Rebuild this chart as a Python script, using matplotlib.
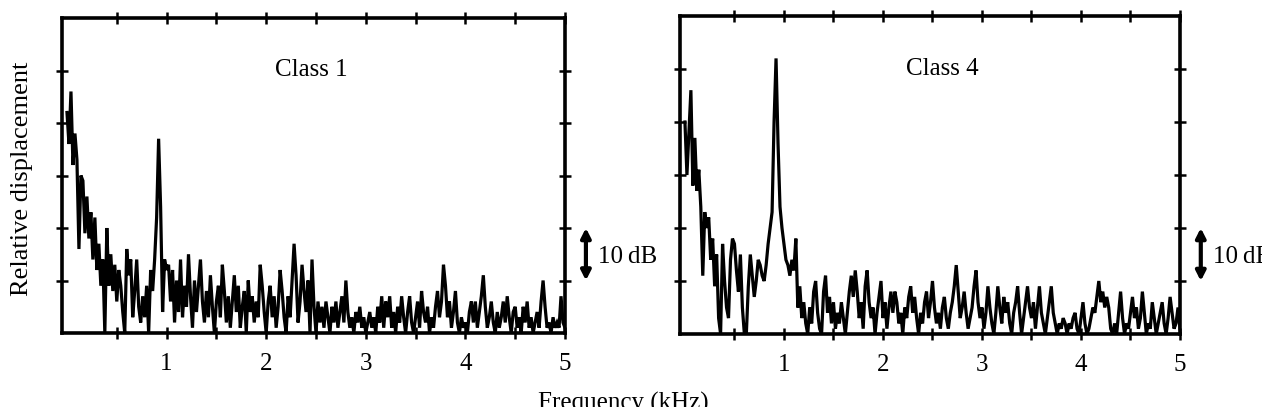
import numpy as np
import matplotlib
matplotlib.use("Agg")
import matplotlib.pyplot as plt

# ---------------- data (dB above the floor) ----------------
freq_step_khz = 0.02
class1_db = [
    42, 36, 46, 32, 38, 33, 16, 30, 29, 19, 26, 18, 23, 14, 22, 12, 17, 9, 14, 0, 20, 9, 15, 8, 13,
    6, 12, 9, 4, 0, 16, 11, 14, 3, 8, 14, 5, 2, 7, 3, 9, 0, 12, 8, 14, 22, 37, 24, 4, 14,
    12, 13, 6, 12, 2, 10, 4, 14, 3, 9, 5, 15, 7, 1, 10, 4, 9, 14, 6, 2, 8, 3, 11, 5, 0,
    6, 9, 3, 13, 8, 2, 7, 1, 6, 11, 4, 9, 1, 5, 8, 0, 10, 4, 7, 2, 6, 3, 13, 9, 4,
    0, 6, 9, 3, 7, 1, 5, 12, 8, 3, 0, 7, 3, 10, 17, 11, 2, 6, 13, 8, 4, 10, 0, 14, 5,
    0, 6, 2, 5, 1, 6, 3, 0, 5, 2, 6, 1, 4, 7, 2, 10, 4, 1, 3, 0, 4, 2, 5, 1, 3,
    0, 2, 4, 1, 3, 0, 5, 2, 7, 1, 6, 3, 7, 1, 4, 0, 5, 2, 7, 3, 0, 4, 7, 2, 0,
    3, 6, 1, 8, 4, 2, 5, 0, 3, 1, 5, 8, 3, 6, 13, 9, 3, 6, 1, 4, 8, 2, 0, 3, 1,
    2, 0, 4, 6, 2, 6, 1, 4, 7, 11, 5, 1, 3, 6, 2, 0, 4, 1, 3, 6, 2, 7, 3, 0, 4,
    5, 1, 3, 0, 5, 2, 6, 1, 3, 0, 2, 4, 1, 6, 10, 5, 1, 2, 0, 3, 1, 2, 1, 7, 2, 1,
]
class4_db = [
    40, 30, 38, 46, 28, 37, 27, 31, 24, 11, 23, 20, 22, 14, 18, 9, 15, 3, 0, 17, 10, 5, 3, 14, 18,
    17, 12, 8, 15, 5, 0, 0, 9, 15, 11, 7, 10, 14, 13, 11, 10, 13, 17, 20, 23, 40, 52, 36, 24, 20,
    17, 14, 13, 11, 14, 12, 18, 5, 9, 3, 6, 2, 0, 5, 2, 8, 10, 4, 1, 0, 8, 11, 4, 7, 2,
    6, 1, 4, 2, 6, 3, 0, 4, 8, 11, 7, 12, 8, 3, 6, 1, 9, 12, 6, 3, 5, 0, 4, 7, 10,
    3, 6, 1, 5, 8, 4, 8, 6, 2, 4, 0, 5, 3, 7, 9, 4, 7, 3, 0, 4, 2, 6, 8, 3, 6,
    10, 5, 2, 4, 1, 5, 7, 3, 1, 4, 6, 9, 13, 8, 3, 5, 8, 4, 1, 3, 5, 9, 12, 6, 3,
    5, 1, 4, 9, 5, 2, 0, 4, 9, 5, 2, 7, 4, 6, 2, 0, 4, 6, 9, 4, 0, 3, 6, 9, 5,
    3, 6, 1, 5, 9, 4, 2, 0, 3, 6, 9, 4, 2, 0, 2, 1, 3, 2, 0, 2, 1, 3, 4, 1, 0,
    3, 6, 2, 0, 1, 3, 5, 4, 7, 10, 6, 8, 5, 7, 5, 1, 0, 2, 0, 4, 8, 3, 0, 2, 1,
    4, 7, 3, 5, 1, 3, 8, 4, 0, 2, 1, 6, 3, 0, 2, 4, 6, 2, 0, 3, 7, 4, 1, 2, 5, 1,
]
panel_titles = ["Class 1", "Class 4"]
xtick_major = [1, 2, 3, 4, 5]
xtick_all = [0.5, 1.0, 1.5, 2.0, 2.5, 3.0, 3.5, 4.0, 4.5, 5.0]
ytick_db = [10, 20, 30, 40, 50]
scale_bar_db = (10, 20)
scale_bar_label = "10\u2009dB"

# ---------------- figure ----------------
serif = ["Liberation Serif", "DejaVu Serif"]
plt.rcParams["font.family"] = serif
FS = 18

fig = plt.figure(figsize=(12.62, 4.07), dpi=100)
W, H = 1262.0, 407.0
boxes = [(62, 18, 565, 333), (680, 16, 1180, 334)]
series = [class1_db, class4_db]

for i, (box, vals, title) in enumerate(zip(boxes, series, panel_titles)):
    x0, y0, x1, y1 = box
    ax = fig.add_axes([x0 / W, 1 - y1 / H, (x1 - x0) / W, (y1 - y0) / H])
    f = np.arange(len(vals)) * freq_step_khz
    ax.plot(f, vals, color="black", lw=2.3, solid_joinstyle="miter")
    ax.set_xlim(-0.05, 5.0)
    ax.set_ylim(0, 60)
    for s in ax.spines.values():
        s.set_linewidth(2.6)
        s.set_color("black")
    ax.set_xticks(xtick_all)
    ax.set_xticklabels(["" if t not in xtick_major else str(int(t)) for t in xtick_all])
    ax.set_yticks(ytick_db)
    ax.set_yticklabels([])
    ax.tick_params(axis="both", which="both", direction="inout", length=9, width=1.8,
                   top=True, right=True, labelsize=FS, pad=10, colors="black")
    ax.tick_params(axis="x", labeltop=False)
    ax.text(2.45 if i == 0 else 2.6, 50, title, fontsize=FS, ha="center", va="center")
    # 10 dB scale bar
    ax.annotate("", xy=(5.21, scale_bar_db[0]), xytext=(5.21, scale_bar_db[1]),
                xycoords="data", annotation_clip=False,
                arrowprops=dict(arrowstyle="<|-|>,head_length=0.55,head_width=0.28",
                                lw=3.0, color="black", shrinkA=0, shrinkB=0))
    ax.text(5.33, 14.5, scale_bar_label, fontsize=FS, ha="left", va="center", clip_on=False)

fig.text(22 / W, 1 - 179 / H, "Relative displacement", rotation=90, fontsize=19,
         ha="center", va="center")
fig.text(623 / W, 1 - 410 / H, "Frequency (kHz)", fontsize=FS, ha="center", va="baseline")

fig.savefig("out.png", dpi=100)
